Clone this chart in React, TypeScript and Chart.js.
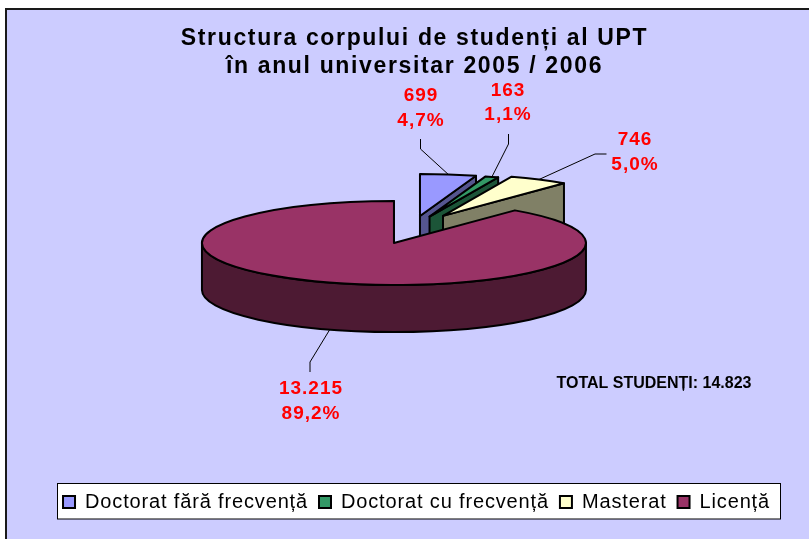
import React, { useEffect, useRef } from "react";
import { Chart, registerables } from "chart.js";

Chart.register(...registerables);

const categories = ["Doctorat fără frecvență", "Doctorat cu frecvență", "Masterat", "Licență"];
const students = [699, 163, 746, 13215];
const titleLines = ["Structura corpului de studenți al UPT", "în anul universitar 2005 / 2006"];
const totalLabel = "TOTAL STUDENȚI: 14.823";

const topColors = ["#9999FF", "#339966", "#FFFFCC", "#993366"];
const sideColors = ["#55558F", "#1C5538", "#808066", "#4D1A33"];

const FONT = "'Liberation Sans', Arial, sans-serif";
const RADIUS = 192;
const TILT = 0.21875;
const DEPTH = 47;
const PIE = { x: 412, y: 229.8 };
const EXPLODE = [54, 54, 62, 54];
const EXPLODE_TILT = 0.259;
const LEGEND_SPACING = "0.85px";
const labelLayout = [
  { x: 421, y: 96, elbow: [420.5, 149], end: [420.5, 139] },
  { x: 508, y: 90.5, elbow: [508.5, 144], end: [508.5, 134] },
  { x: 635, y: 140, elbow: [595, 154], end: [606.5, 154] },
  { x: 311, y: 389, elbow: [310, 362], end: [310, 372] },
];

const fmtCount = (v: number) => String(v).replace(/\B(?=(\d{3})+$)/g, ".");
const fmtPct = (v: number, sum: number) => ((v / sum) * 100).toFixed(1).replace(".", ",") + "%";

const pie3d = {
  id: "pie3d",
  beforeLayout(chart: any) {
    chart.ctx.letterSpacing = LEGEND_SPACING;
  },
  afterLayout(chart: any) {
    chart.ctx.letterSpacing = "0px";
    const lg = chart.legend;
    if (lg) {
      lg.left += 2;
      lg.right += 2;
      if (!lg.__wrapped) {
        lg.__wrapped = true;
        const d = lg.draw.bind(lg);
        lg.draw = () => {
          chart.ctx.save();
          chart.ctx.letterSpacing = LEGEND_SPACING;
          d();
          chart.ctx.restore();
        };
      }
    }
    const t = chart.titleBlock;
    if (t && !t.__wrapped) {
      t.__wrapped = true;
      const d = t.draw.bind(t);
      t.draw = () => {
        chart.ctx.save();
        chart.ctx.letterSpacing = "1.65px";
        d();
        chart.ctx.restore();
      };
    }
  },
  beforeDraw(chart: any) {
    const { ctx, width, height } = chart;
    ctx.save();
    ctx.fillStyle = "#FFFFFF";
    ctx.fillRect(0, 0, width, height);
    ctx.fillStyle = "#CCCCFF";
    ctx.fillRect(6, 9, width - 6, height - 9);
    ctx.strokeStyle = "#1a1a1a";
    ctx.lineWidth = 2;
    ctx.beginPath();
    ctx.moveTo(6, height);
    ctx.lineTo(6, 9);
    ctx.lineTo(width, 9);
    ctx.stroke();
    // legend frame
    ctx.fillStyle = "#FFFFFF";
    ctx.fillRect(57, 483, 724, 36);
    ctx.strokeStyle = "#000000";
    ctx.lineWidth = 1;
    ctx.strokeRect(57.5, 483.5, 723, 35.5);
    ctx.restore();
  },
  beforeDatasetsDraw(chart: any) {
    const { ctx } = chart;
    const meta = chart.getDatasetMeta(0);
    const total = students.reduce((a, b) => a + b, 0);
    const geom = meta.data.map((el: any, i: number) => {
      const mid = (el.startAngle + el.endAngle) / 2;
      return {
        el,
        mid,
        px: PIE.x + Math.cos(mid) * EXPLODE[i],
        py: PIE.y + Math.sin(mid) * EXPLODE[i] * EXPLODE_TILT,
      };
    });
    const rim = (g: any, a: number, z = 0) => [
      g.px + RADIUS * Math.cos(a),
      g.py + RADIUS * TILT * Math.sin(a) + z,
    ];

    ctx.save();
    ctx.lineJoin = "round";
    geom.forEach((g: any, i: number) => {
      const { el } = g;
      ctx.strokeStyle = "#000000";
      ctx.lineWidth = 2;
      ctx.fillStyle = sideColors[i];

      // cut face on the clockwise side of the slice
      const [ex, ey] = rim(g, el.endAngle);
      ctx.beginPath();
      ctx.moveTo(g.px, g.py);
      ctx.lineTo(ex, ey);
      ctx.lineTo(ex, ey + DEPTH);
      ctx.lineTo(g.px, g.py + DEPTH);
      ctx.closePath();
      ctx.fill();
      ctx.stroke();

      // outer wall, only where it faces the viewer
      const from = Math.max(el.startAngle, 0);
      const to = Math.min(el.endAngle, Math.PI);
      if (to > from) {
        ctx.beginPath();
        ctx.ellipse(g.px, g.py, RADIUS, RADIUS * TILT, 0, from, to);
        ctx.ellipse(g.px, g.py + DEPTH, RADIUS, RADIUS * TILT, 0, to, from, true);
        ctx.closePath();
        ctx.fill();
        ctx.stroke();
      }

      // top face: the library's arc element, flattened
      ctx.save();
      ctx.translate(g.px, g.py);
      ctx.scale(1, TILT);
      ctx.translate(-el.x, -el.y);
      el.draw(ctx);
      ctx.restore();

      ctx.beginPath();
      ctx.moveTo(g.px, g.py);
      ctx.ellipse(g.px, g.py, RADIUS, RADIUS * TILT, 0, el.startAngle, el.endAngle);
      ctx.closePath();
      ctx.stroke();
    });

    // leader lines and data labels
    ctx.textAlign = "center";
    ctx.textBaseline = "middle";
    geom.forEach((g: any, i: number) => {
      const z = Math.sin(g.mid) > 0 ? DEPTH : 0;
      const [ax, ay] = rim(g, g.mid, z);
      const l = labelLayout[i];
      ctx.strokeStyle = "#000000";
      ctx.lineWidth = 1;
      ctx.beginPath();
      ctx.moveTo(ax, ay);
      ctx.lineTo(l.elbow[0], l.elbow[1]);
      ctx.lineTo(l.end[0], l.end[1]);
      ctx.stroke();

      ctx.fillStyle = "#FF0000";
      ctx.font = `bold 19px ${FONT}`;
      ctx.letterSpacing = "1px";
      ctx.fillText(fmtCount(students[i]), l.x, l.y);
      ctx.fillText(fmtPct(students[i], total), l.x, l.y + 24.5);
    });
    ctx.letterSpacing = "0px";
    ctx.fillStyle = "#000000";
    ctx.font = `bold 16px ${FONT}`;
    ctx.fillText(totalLabel, 654, 383.5);
    ctx.restore();
    return false;
  },
};

export default function App() {
  const ref = useRef<HTMLCanvasElement>(null);
  useEffect(() => {
    const chart = new Chart(ref.current as HTMLCanvasElement, {
      type: "pie",
      data: {
        labels: categories,
        datasets: [
          {
            data: students,
            backgroundColor: topColors,
            borderWidth: 0,
            radius: RADIUS,
          } as any,
        ],
      },
      options: {
        animation: false,
        responsive: false,
        layout: { padding: { left: 20, right: 0, top: 25, bottom: 17 } },
        plugins: {
          title: {
            display: true,
            text: titleLines,
            color: "#000000",
            font: { family: FONT, size: 23, weight: "bold", lineHeight: 1.22 },
            padding: { top: 0, bottom: 0 },
          },
          legend: {
            display: true,
            position: "bottom",
            labels: {
              color: "#000000",
              font: { family: FONT, size: 20 },
              boxWidth: 12,
              boxHeight: 12,
              padding: 11,
              generateLabels(c: any) {
                const items = (Chart as any).overrides.doughnut.plugins.legend.labels.generateLabels(c);
                items.forEach((it: any) => {
                  it.strokeStyle = "#000000";
                  it.lineWidth = 2;
                });
                return items;
              },
            },
          },
          tooltip: { enabled: false },
        },
      },
      plugins: [pie3d],
    } as any);
    return () => chart.destroy();
  }, []);
  return (
    <canvas
      ref={ref}
      width={809}
      height={539}
      style={{ position: "fixed", left: 0, top: 0, display: "block" }}
    />
  );
}
